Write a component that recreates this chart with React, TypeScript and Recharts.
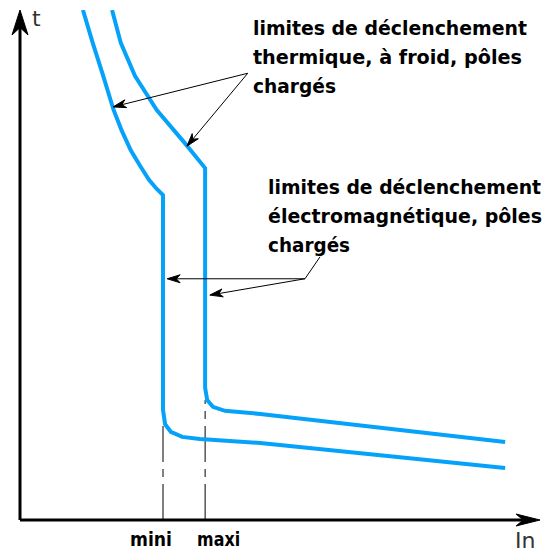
import React from 'react';
import { LineChart, Line, XAxis, YAxis, ReferenceLine, ReferenceDot } from 'recharts';

// courbe de déclenchement, units are arbitrary (0..100 on both axes)
const MINI_X = [12.1, 14.0, 16.0, 18.0, 19.5, 21.3, 23.0, 24.8, 26.3, 27.5, 27.5, 27.9, 29.0, 31.2, 34.6, 46.2, 93.3];
const MINI_T = [100, 93.5, 87.1, 80.4, 76.5, 72.5, 69.6, 66.7, 64.9, 63.7, 21.6, 18.8, 17.3, 16.3, 15.9, 15.1, 10.2];
const MAXI_X = [17.7, 19.4, 22.1, 26.3, 31.7, 35.6, 35.6, 36.0, 37.1, 39.4, 46.2, 93.3];
const MAXI_T = [100, 93.5, 87.1, 80.4, 73.9, 69.0, 25.9, 23.5, 22.2, 21.4, 20.8, 15.3];

const TICKS = [27.5, 35.6];
const TICK_LABELS = ['mini', 'maxi'];
const DASH_TOP = [18.6, 23.5];

const THERMAL_LINES = ['limites de déclenchement', 'thermique, à froid, pôles', 'chargés'];
const MAGNETIC_LINES = ['limites de déclenchement', 'électromagnétique, pôles', 'chargés'];

const X_LABEL = 'In';
const Y_LABEL = 't';

const miniData = MINI_X.map((x, i) => ({ x, t: MINI_T[i] }));
const maxiData = MAXI_X.map((x, i) => ({ x, t: MAXI_T[i] }));

const BLUE = '#06a2fa';
const FONT = "'DejaVu Sans', sans-serif";

// filled barbed arrow head at the end of a segment
function arrowShape(len: number, half: number, width: number, label?: { text: string; dx: number; dy: number; size: number }) {
  return (props: any) => {
    const { x1, y1, x2, y2 } = props;
    const a = Math.atan2(y2 - y1, x2 - x1);
    const cos = Math.cos(a);
    const sin = Math.sin(a);
    const pt = (along: number, side: number) =>
      `${x2 - along * cos - side * sin},${y2 - along * sin + side * cos}`;
    const d = `M${pt(0, 0)} L${pt(len, half)} L${pt(len * 0.7, 0)} L${pt(len, -half)} Z`;
    return (
      <g>
        <line x1={x1} y1={y1} x2={x2 - len * 0.6 * cos} y2={y2 - len * 0.6 * sin} stroke="#000" strokeWidth={width} />
        <path d={d} fill="#000" stroke="#000" strokeWidth={1} />
        {label && (
          <text x={x2 + label.dx} y={y2 + label.dy} fontFamily={FONT} fontSize={label.size} fill="#333">
            {label.text}
          </text>
        )}
      </g>
    );
  };
}

const plainLine = (props: any) => (
  <line x1={props.x1} y1={props.y1} x2={props.x2} y2={props.y2} stroke="#000" strokeWidth={1} />
);

function textBlock(lines: string[], widths: number[], step: number) {
  return (props: any) => (
    <g>
      {lines.map((s, i) => (
        <text
          key={i}
          x={props.cx}
          y={props.cy + i * step}
          fontFamily={FONT}
          fontWeight="bold"
          fontSize={19}
          fill="#000"
          textLength={widths[i]}
          lengthAdjust="spacingAndGlyphs"
        >
          {s}
        </text>
      ))}
    </g>
  );
}

const MiniMaxiTick = (props: any) => {
  const { x, y, index } = props;
  const first = index === 0;
  return (
    <text
      x={first ? x + 9 : x - 8}
      y={y + 18}
      textAnchor={first ? 'end' : 'start'}
      fontFamily={FONT}
      fontWeight="bold"
      fontSize={19}
      fill="#000"
      textLength={first ? 42 : 43}
      lengthAdjust="spacingAndGlyphs"
    >
      {TICK_LABELS[index]}
    </text>
  );
};

export default function App() {
  return (
    <div style={{ position: 'absolute', left: 0, top: 0, background: '#fff' }}>
      <LineChart width={545} height={555} margin={{ top: 10, right: 5, left: 20, bottom: 5 }}>
        <XAxis
          type="number"
          dataKey="x"
          domain={[0, 100]}
          ticks={TICKS}
          tick={<MiniMaxiTick />}
          axisLine={false}
          tickLine={false}
          height={30}
          allowDataOverflow
        />
        <YAxis type="number" dataKey="t" domain={[0, 100]} hide allowDataOverflow />

        {/* axes with arrows */}
        <ReferenceLine
          segment={[{ x: 0, y: 0 }, { x: 100, y: 0 }]}
          ifOverflow="visible"
          shape={arrowShape(24, 6, 3, { text: X_LABEL, dx: -25, dy: 28, size: 22 })}
        />
        <ReferenceLine
          segment={[{ x: 0, y: 0 }, { x: 0, y: 100 }]}
          ifOverflow="visible"
          shape={arrowShape(25, 8, 3, { text: Y_LABEL, dx: 12, dy: 16, size: 22 })}
        />

        {/* mini / maxi dashed guides */}
        {TICKS.map((x, i) => (
          <ReferenceLine
            key={x}
            segment={[{ x, y: 0 }, { x, y: DASH_TOP[i] }]}
            ifOverflow="visible"
            stroke="#000"
            strokeWidth={1}
            strokeDasharray="36 7 8 7"
          />
        ))}

        <Line data={miniData} dataKey="t" type="linear" stroke={BLUE} strokeWidth={4} dot={false} activeDot={false} isAnimationActive={false} />
        <Line data={maxiData} dataKey="t" type="linear" stroke={BLUE} strokeWidth={4} dot={false} activeDot={false} isAnimationActive={false} />

        {/* thermal annotation */}
        <ReferenceLine segment={[{ x: 43.8, y: 87.6 }, { x: 17.9, y: 81.0 }]} ifOverflow="visible" shape={arrowShape(13, 4, 1)} />
        <ReferenceLine segment={[{ x: 43.8, y: 87.6 }, { x: 32.1, y: 73.3 }]} ifOverflow="visible" shape={arrowShape(13, 4, 1)} />
        <ReferenceDot x={44.8} y={95.1} r={0} ifOverflow="visible" shape={textBlock(THERMAL_LINES, [274, 269, 83], 29)} />

        {/* electromagnetic annotation */}
        <ReferenceLine segment={[{ x: 57.7, y: 51.6 }, { x: 54.8, y: 47.3 }]} ifOverflow="visible" shape={plainLine} />
        <ReferenceLine segment={[{ x: 54.8, y: 47.3 }, { x: 28.3, y: 47.3 }]} ifOverflow="visible" shape={arrowShape(13, 4, 1)} />
        <ReferenceLine segment={[{ x: 54.8, y: 47.3 }, { x: 36.5, y: 44.1 }]} ifOverflow="visible" shape={arrowShape(13, 4, 1)} />
        <ReferenceDot x={47.7} y={63.9} r={0} ifOverflow="visible" shape={textBlock(MAGNETIC_LINES, [273, 274, 82], 29)} />
      </LineChart>
    </div>
  );
}
